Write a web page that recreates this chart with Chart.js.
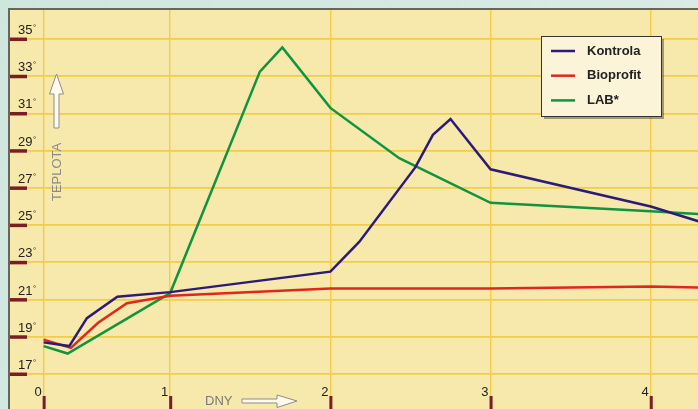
<!DOCTYPE html>
<html>
<head>
<meta charset="utf-8">
<script src="https://cdn.jsdelivr.net/npm/chart.js@4.4.0/dist/chart.umd.min.js"></script>
<style>
  html, body { margin: 0; padding: 0; overflow: hidden; background: #d4e8e1; }
  #wrap { position: relative; width: 698px; height: 409px; }
</style>
</head>
<body>
<div id="wrap"><canvas id="chart" width="698" height="409"></canvas></div>
<script>
// Axis ticks (x in days, y in degrees)
const xTickVals = [0.21, 1, 2, 3, 4];
const xTickLabels = ['0', '1', '2', '3', '4'];
const yTickVals = [17, 19, 21, 23, 25, 27, 29, 31, 33, 35];

// Series
const seriesNames = ['Kontrola', 'Bioprofit', 'LAB*'];
const seriesColors = ['#2d1b78', '#e0261d', '#11943f'];

const kontrolaX = [0.21, 0.37, 0.48, 0.67, 1, 2, 2.18, 2.53, 2.64, 2.75, 3, 4, 4.3];
const kontrolaY = [18.7, 18.5, 20.0, 21.15, 21.4, 22.5, 24.1, 28.1, 29.85, 30.7, 28.0, 26.0, 25.2];

const bioprofitX = [0.21, 0.38, 0.55, 0.73, 1, 2, 3, 4, 4.3];
const bioprofitY = [18.85, 18.4, 19.75, 20.8, 21.2, 21.6, 21.6, 21.7, 21.65];

const labX = [0.21, 0.36, 1, 1.56, 1.7, 2, 2.43, 3, 4, 4.3];
const labY = [18.5, 18.1, 21.35, 33.25, 34.55, 31.3, 28.6, 26.2, 25.75, 25.6];

const toPoints = (xs, ys) => xs.map((x, i) => ({ x, y: ys[i] }));
const seriesData = [
  toPoints(kontrolaX, kontrolaY),
  toPoints(bioprofitX, bioprofitY),
  toPoints(labX, labY),
];

const FONT = '"Liberation Sans", Arial, sans-serif';

// Background, frame, tick marks, labels, axis titles and the boxed legend
const decor = {
  id: 'decor',
  beforeDraw(chart) {
    const { ctx, chartArea: a } = chart;
    const g = ctx.createLinearGradient(0, 0, 698, 409);
    g.addColorStop(0, '#cfe6de');
    g.addColorStop(1, '#dcece6');
    ctx.save();
    ctx.fillStyle = g;
    ctx.fillRect(0, 0, chart.width, chart.height);
    ctx.fillStyle = '#f7e8ab';
    ctx.fillRect(a.left, a.top, a.right - a.left, a.bottom - a.top);
    ctx.restore();
  },
  afterDraw(chart) {
    const { ctx, chartArea: a, scales } = chart;
    ctx.save();

    // frame
    ctx.strokeStyle = '#66665a';
    ctx.lineWidth = 2;
    ctx.beginPath();
    ctx.moveTo(9, chart.height);
    ctx.lineTo(9, 9);
    ctx.lineTo(chart.width, 9);
    ctx.stroke();

    // y ticks + labels
    yTickVals.forEach(v => {
      const py = scales.y.getPixelForValue(v);
      ctx.fillStyle = '#7b1e22';
      ctx.fillRect(a.left, py - 1.5, 17, 3.5);
      ctx.fillStyle = '#222';
      ctx.font = '13px ' + FONT;
      ctx.textAlign = 'left';
      ctx.textBaseline = 'alphabetic';
      const s = String(v);
      ctx.fillText(s, 18, py - 5);
      const w = ctx.measureText(s).width;
      ctx.font = '8px ' + FONT;
      ctx.fillText('°', 18 + w + 0.5, py - 9);
    });

    // x ticks + labels
    xTickVals.forEach((v, i) => {
      const px = scales.x.getPixelForValue(v);
      ctx.fillStyle = '#7b1e22';
      ctx.fillRect(px - 1, 396, 3, 14);
      ctx.fillStyle = '#222';
      ctx.font = '13px ' + FONT;
      ctx.textAlign = 'right';
      ctx.fillText(xTickLabels[i], px - 2, 396);
    });

    // axis titles with outlined arrows
    ctx.fillStyle = '#8a8a8a';
    ctx.font = '13px ' + FONT;
    ctx.textAlign = 'left';
    ctx.save();
    ctx.translate(61, 201);
    ctx.rotate(-Math.PI / 2);
    ctx.fillText('TEPLOTA', 0, 0);
    ctx.restore();
    ctx.fillStyle = '#7a7a7a';
    ctx.fillText('DNY', 205, 405);

    const arrow = pts => {
      ctx.beginPath();
      pts.forEach(([x, y], i) => (i ? ctx.lineTo(x, y) : ctx.moveTo(x, y)));
      ctx.closePath();
      ctx.fillStyle = '#fffbec';
      ctx.fill();
      ctx.strokeStyle = '#8d8d8d';
      ctx.lineWidth = 1;
      ctx.stroke();
    };
    arrow([[54, 128], [59, 128], [59, 94], [63.5, 94], [56.5, 74], [49.5, 94], [54, 94]]);
    arrow([[242, 399], [277, 399], [277, 395], [297, 401], [277, 407.5], [277, 403], [242, 403]]);

    // legend box
    const lx = 541, ly = 36, lw = 120, lh = 80;
    ctx.fillStyle = 'rgba(60,55,40,0.45)';
    ctx.fillRect(lx + 3, ly + 3, lw, lh);
    ctx.fillStyle = '#fbf4d9';
    ctx.fillRect(lx, ly, lw, lh);
    ctx.strokeStyle = '#333';
    ctx.lineWidth = 1;
    ctx.strokeRect(lx + 0.5, ly + 0.5, lw, lh);
    seriesNames.forEach((name, i) => {
      const y = 51 + i * 24.7;
      ctx.strokeStyle = seriesColors[i];
      ctx.lineWidth = 2.5;
      ctx.beginPath();
      ctx.moveTo(551, y);
      ctx.lineTo(575, y);
      ctx.stroke();
      ctx.fillStyle = '#222';
      ctx.font = 'bold 13px ' + FONT;
      ctx.textAlign = 'left';
      ctx.textBaseline = 'middle';
      ctx.fillText(name, 587, y);
    });
    ctx.restore();
  },
};

const gridOpts = lw => ({ color: '#f2cd47', lineWidth: lw, drawTicks: false });

new Chart(document.getElementById('chart'), {
  type: 'line',
  data: {
    datasets: seriesNames.map((name, i) => ({
      label: name,
      data: seriesData[i],
      borderColor: seriesColors[i],
      borderWidth: 2.5,
      pointRadius: 0,
      tension: 0,
      fill: false,
    })),
  },
  options: {
    responsive: false,
    animation: false,
    layout: { padding: { left: 10, top: 10, right: 0, bottom: 0 }, autoPadding: false },
    plugins: { legend: { display: false }, tooltip: { enabled: false } },
    scales: {
      x: {
        type: 'linear',
        min: 0,
        max: 4.295,
        afterBuildTicks: ax => { ax.ticks = xTickVals.map(v => ({ value: v })); },
        grid: gridOpts(1.4),
        border: { display: false },
        ticks: { display: false },
      },
      y: {
        type: 'linear',
        min: 15.12,
        max: 36.56,
        afterBuildTicks: ax => { ax.ticks = yTickVals.map(v => ({ value: v })); },
        grid: gridOpts(1.8),
        border: { display: false },
        ticks: { display: false },
      },
    },
  },
  plugins: [decor],
});
</script>
</body>
</html>
